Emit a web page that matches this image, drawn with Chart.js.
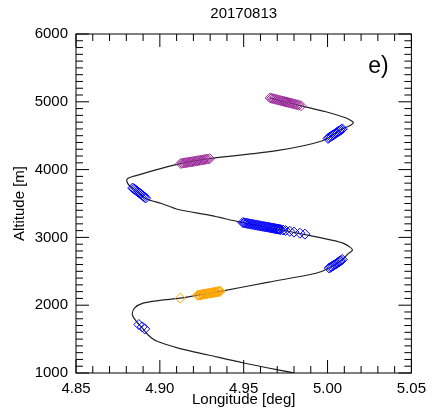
<!DOCTYPE html>
<html>
<head>
<meta charset="utf-8">
<script src="https://cdn.jsdelivr.net/npm/chart.js@4"></script>
<style>
  body { margin: 0; background: #fff; }
  canvas { display: block; }
</style>
</head>
<body>
<canvas id="chart" width="433" height="415"></canvas>
<script>
// Track of the flight: [longitude, altitude]
const trackLine = [
    [4.9800, 1000], [4.9500, 1147], [4.9290, 1265], [4.9110, 1368], [4.8980, 1471],
    [4.8930, 1560], [4.8895, 1665], [4.8860, 1760], [4.8836, 1860], [4.8850, 1960],
    [4.8900, 2030], [4.9000, 2070], [4.9122, 2103], [4.9230, 2148], [4.9360, 2205],
    [4.9650, 2340], [4.9930, 2471], [5.0010, 2548], [5.0090, 2676], [5.0125, 2765],
    [5.0148, 2809], [5.0136, 2853], [5.0095, 2912], [5.0031, 2956], [4.9890, 3029],
    [4.9700, 3122], [4.9490, 3221], [4.9300, 3324], [4.9110, 3412], [4.9010, 3500],
    [4.8916, 3574], [4.8834, 3735], [4.8810, 3790], [4.8805, 3860], [4.8858, 3912],
    [4.9122, 4088], [4.9298, 4162], [4.9696, 4279], [4.9970, 4426], [5.0089, 4603],
    [5.0119, 4632], [5.0142, 4662], [5.0154, 4691], [5.0142, 4721], [5.0107, 4765],
    [4.9990, 4853], [4.9843, 4941], [4.9655, 5059]
];

const blueMarks = [
    // low turn
    [4.8875, 1715], [4.8895, 1680], [4.8910, 1650],
    // mid right
    [5.0010, 2548], [5.0018, 2560], [5.0025, 2570], [5.0033, 2582], [5.0040, 2594],
    [5.0048, 2606], [5.0055, 2618], [5.0062, 2629], [5.0068, 2640], [5.0074, 2650],
    [5.0080, 2660], [5.0088, 2674],
    // long run near 3100 m
    [4.9495, 3219], [4.9503, 3215], [4.9510, 3212], [4.9518, 3208], [4.9525, 3205],
    [4.9533, 3201], [4.9540, 3198], [4.9548, 3194], [4.9555, 3191], [4.9563, 3187],
    [4.9570, 3184], [4.9578, 3180], [4.9585, 3177], [4.9593, 3173], [4.9600, 3170],
    [4.9608, 3166], [4.9615, 3163], [4.9623, 3159], [4.9630, 3156], [4.9638, 3153],
    [4.9645, 3150], [4.9653, 3146], [4.9660, 3143], [4.9668, 3139], [4.9675, 3136],
    [4.9683, 3132], [4.9690, 3129], [4.9698, 3125], [4.9705, 3122], [4.9713, 3118],
    [4.9720, 3115], [4.9735, 3108], [4.9750, 3101], [4.9775, 3090], [4.9800, 3078],
    [4.9835, 3062], [4.9865, 3048],
    // upper left
    [4.8838, 3728], [4.8845, 3716], [4.8852, 3704], [4.8859, 3691], [4.8866, 3678],
    [4.8873, 3665], [4.8880, 3652], [4.8887, 3638], [4.8894, 3624], [4.8901, 3610],
    [4.8908, 3596], [4.8915, 3580],
    // upper right
    [5.0003, 4460], [5.0010, 4472], [5.0018, 4485], [5.0025, 4497], [5.0033, 4510],
    [5.0040, 4522], [5.0048, 4535], [5.0055, 4546], [5.0062, 4558], [5.0069, 4569],
    [5.0076, 4580], [5.0082, 4590], [5.0088, 4600]
];

const orangeMarks = [
    [4.9122, 2103],
    [4.9225, 2146], [4.9233, 2149], [4.9240, 2152], [4.9248, 2156], [4.9255, 2159],
    [4.9262, 2162], [4.9268, 2165], [4.9275, 2168], [4.9282, 2171], [4.9289, 2174],
    [4.9296, 2177], [4.9303, 2180], [4.9310, 2183], [4.9316, 2186], [4.9322, 2189],
    [4.9329, 2191], [4.9335, 2194], [4.9342, 2197], [4.9348, 2200], [4.9354, 2203],
    [4.9360, 2205]
];

const purpleMarks = [
    [4.9125, 4090], [4.9134, 4094], [4.9142, 4097], [4.9151, 4101], [4.9160, 4104],
    [4.9169, 4108], [4.9178, 4111], [4.9187, 4115], [4.9196, 4118], [4.9205, 4122],
    [4.9214, 4126], [4.9223, 4130], [4.9232, 4134], [4.9241, 4138], [4.9250, 4141],
    [4.9259, 4145], [4.9268, 4149], [4.9277, 4153], [4.9285, 4156], [4.9297, 4161],
    [4.9658, 5057], [4.9667, 5051], [4.9675, 5046], [4.9684, 5041], [4.9692, 5036],
    [4.9700, 5030], [4.9709, 5025], [4.9718, 5019], [4.9726, 5014], [4.9735, 5009],
    [4.9743, 5004], [4.9752, 4998], [4.9760, 4993], [4.9769, 4988], [4.9777, 4983],
    [4.9786, 4977], [4.9794, 4972], [4.9803, 4966], [4.9811, 4961], [4.9820, 4956],
    [4.9828, 4951], [4.9842, 4942]
];

const xRange = [4.85, 5.05];
const yRange = [1000, 6000];
const xMinorStep = 0.01;
const yMinorStep = 100;

const FONT = "'Liberation Sans', Arial, Helvetica, sans-serif";
const toXY = arr => arr.map(p => ({ x: p[0], y: p[1] }));

function markerSet(label, data, color) {
    return {
        label: label,
        data: toXY(data),
        showLine: false,
        order: 0,
        pointStyle: "rectRot",
        pointRadius: 5,
        borderColor: color,
        backgroundColor: "rgba(0,0,0,0)",
        pointBorderWidth: 1
    };
}

// box round the plot with inward ticks on all four sides, plus the panel tag
const frameTicks = {
    id: "frameTicks",
    afterDraw(chart) {
        const ctx = chart.ctx;
        const a = chart.chartArea;
        const xs = chart.scales.x;
        const ys = chart.scales.y;
        ctx.save();
        ctx.strokeStyle = "#000";
        ctx.lineWidth = 1;
        ctx.strokeRect(a.left, a.top, a.right - a.left, a.bottom - a.top);
        ctx.beginPath();
        const nx = Math.round((xRange[1] - xRange[0]) / xMinorStep);
        for (let i = 0; i <= nx; i++) {
            const px = xs.getPixelForValue(xRange[0] + i * xMinorStep);
            const len = i % 5 === 0 ? 13 : 7;
            ctx.moveTo(px, a.bottom); ctx.lineTo(px, a.bottom - len);
            ctx.moveTo(px, a.top); ctx.lineTo(px, a.top + len);
        }
        const ny = Math.round((yRange[1] - yRange[0]) / yMinorStep);
        for (let i = 0; i <= ny; i++) {
            const py = ys.getPixelForValue(yRange[0] + i * yMinorStep);
            const len = i % 10 === 0 ? 13 : 7;
            ctx.moveTo(a.left, py); ctx.lineTo(a.left + len, py);
            ctx.moveTo(a.right, py); ctx.lineTo(a.right - len, py);
        }
        ctx.stroke();

        ctx.fillStyle = "#000";
        ctx.font = "23px " + FONT;
        ctx.textAlign = "center";
        ctx.textBaseline = "alphabetic";
        ctx.fillText("e)", a.right - 33, a.top + 39);
        ctx.restore();
    }
};

new Chart(document.getElementById("chart"), {
    type: "scatter",
    data: {
        datasets: [
            {
                label: "track",
                data: toXY(trackLine),
                showLine: true,
                order: 1,
                pointRadius: 0,
                borderColor: "#222",
                borderWidth: 1.2,
                tension: 0.3
            },
            markerSet("blue", blueMarks, "#0000ff"),
            markerSet("orange", orangeMarks, "#ffa500"),
            markerSet("purple", purpleMarks, "#9a2a9a")
        ]
    },
    options: {
        responsive: false,
        animation: false,
        devicePixelRatio: 1,
        layout: { padding: { left: 0, right: 16, top: 0, bottom: 0 } },
        plugins: {
            legend: { display: false },
            tooltip: { enabled: false },
            title: { display: false }
        },
        scales: {
            x: {
                type: "linear",
                min: xRange[0],
                max: xRange[1],
                grid: { display: false, drawTicks: false },
                border: { display: false },
                ticks: {
                    stepSize: 0.05,
                    padding: 7,
                    color: "#000",
                    font: { family: FONT, size: 15 },
                    maxRotation: 0,
                    callback: v => v.toFixed(2)
                },
                title: {
                    display: true,
                    text: "Longitude [deg]",
                    color: "#000",
                    font: { family: FONT, size: 15 },
                    padding: { top: 0, bottom: 6 }
                },
                afterFit: s => { s.height = 42; }
            },
            // top axis only carries the date title, centred over the plot
            xTop: {
                type: "linear",
                position: "top",
                min: xRange[0],
                max: xRange[1],
                grid: { display: false, drawTicks: false },
                border: { display: false },
                ticks: { display: false },
                title: {
                    display: true,
                    text: "20170813",
                    color: "#000",
                    font: { family: FONT, size: 15 },
                    padding: { top: 5, bottom: 0 }
                },
                afterFit: s => { s.height = 34; }
            },
            y: {
                type: "linear",
                min: yRange[0],
                max: yRange[1],
                grid: { display: false, drawTicks: false },
                border: { display: false },
                ticks: {
                    stepSize: 1000,
                    padding: 8,
                    color: "#000",
                    font: { family: FONT, size: 15 },
                    callback: v => String(v)
                },
                title: {
                    display: true,
                    text: "Altitude [m]",
                    color: "#000",
                    font: { family: FONT, size: 15 },
                    padding: { top: 11, bottom: 0 }
                },
                afterFit: s => { s.width = 76; }
            }
        }
    },
    plugins: [frameTicks]
});
</script>
</body>
</html>
